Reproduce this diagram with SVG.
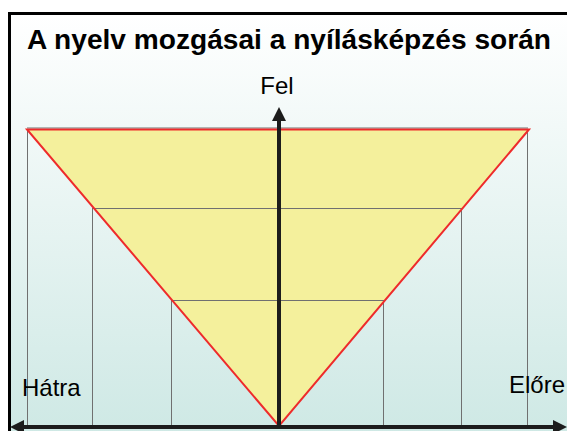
<svg xmlns="http://www.w3.org/2000/svg" width="567" height="431" viewBox="0 0 567 431">
  <style>
    .grid { stroke: #707070; stroke-width: 1; fill: none; }
    .axis { stroke: #1c1c1c; stroke-width: 4; fill: none; }
    .lbl { font-family: "Liberation Sans", Arial, sans-serif; fill: #000; }
  </style>
  <defs>
    <linearGradient id="bg" x1="0" y1="0" x2="0" y2="1">
      <stop offset="0" stop-color="#ffffff"/>
      <stop offset="1" stop-color="#cde8e4"/>
    </linearGradient>
    <marker id="ah" viewBox="0 0 14 14" refX="2" refY="7" markerWidth="14" markerHeight="14" markerUnits="userSpaceOnUse" orient="auto-start-reverse">
      <path d="M0,0 L14,7 L0,14 Z" fill="#1c1c1c"/>
    </marker>
  </defs>
  <rect x="0" y="0" width="567" height="431" fill="#ffffff"/>
  <rect x="9.5" y="13.5" width="600" height="430" fill="url(#bg)" stroke="#000" stroke-width="3"/>
  <text class="lbl" x="27" y="49" font-size="27" font-weight="bold" textLength="524" lengthAdjust="spacingAndGlyphs">A nyelv mozgásai a nyílásképzés során</text>

  <g id="triangle">
    <polygon points="27,129 529,129 279,426" fill="#f4f09c"/>
  </g>
  <g id="grid">
    <line class="grid" x1="27" y1="128" x2="528" y2="128"/>
    <line class="grid" x1="27.5" y1="129" x2="27.5" y2="426"/>
    <line class="grid" x1="527.5" y1="129" x2="527.5" y2="426"/>
    <line class="grid" x1="92.5" y1="208" x2="92.5" y2="426"/>
    <line class="grid" x1="461.5" y1="208" x2="461.5" y2="426"/>
    <line class="grid" x1="92" y1="208.5" x2="462" y2="208.5"/>
    <line class="grid" x1="171.5" y1="300" x2="171.5" y2="426"/>
    <line class="grid" x1="383.5" y1="300" x2="383.5" y2="426"/>
    <line class="grid" x1="171" y1="300.5" x2="384" y2="300.5"/>
  </g>
  <g id="triangle-outline">
    <polygon points="27,129.5 529,129.5 279,426" fill="none" stroke="#ee2b2b" stroke-width="2" stroke-linejoin="miter"/>
  </g>
  <g id="connectors">
    <line class="axis" x1="279" y1="426" x2="279" y2="119" marker-end="url(#ah)"/>
    <line class="axis" x1="22" y1="427" x2="555" y2="427" marker-start="url(#ah)" marker-end="url(#ah)"/>
  </g>
  <g id="label-fel"><text class="lbl" x="277" y="94" font-size="24" text-anchor="middle">Fel</text></g>
  <g id="label-hatra"><text class="lbl" x="22" y="396" font-size="24">Hátra</text></g>
  <g id="label-elore"><text class="lbl" x="565" y="393" font-size="24" text-anchor="end">Előre</text></g>
</svg>
